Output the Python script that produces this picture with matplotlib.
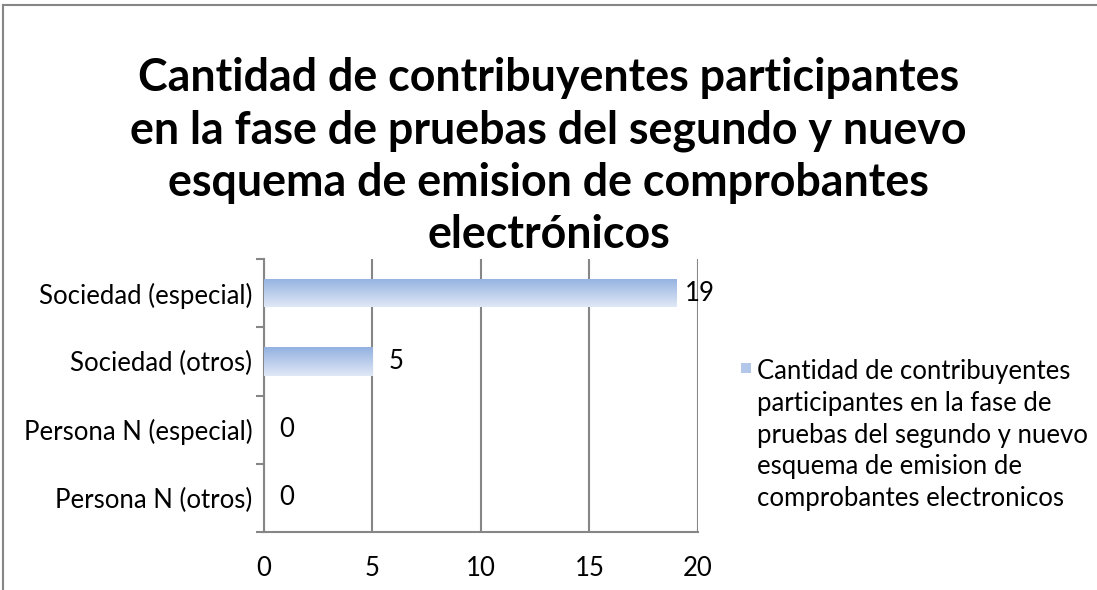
import numpy as np
import matplotlib
matplotlib.use("Agg")
import matplotlib.pyplot as plt
from matplotlib.colors import LinearSegmentedColormap
from matplotlib.lines import Line2D
from matplotlib.patches import Rectangle

# Data
categories = [
    "Persona N (otros)",
    "Persona N (especial)",
    "Sociedad (otros)",
    "Sociedad (especial)",
]
values = [0, 0, 5, 19]
x_ticks = [0, 5, 10, 15, 20]

title = ("Cantidad de contribuyentes participantes\n"
         "en la fase de pruebas del segundo y nuevo\n"
         "esquema de emision de comprobantes\n"
         "electrónicos")
legend_text = ("Cantidad de contribuyentes\n"
               "participantes en la fase de\n"
               "pruebas del segundo y nuevo\n"
               "esquema de emision de\n"
               "comprobantes electronicos")

plt.rcParams["font.family"] = ["Lato", "DejaVu Sans"]
grid_col = "#868686"
grad = LinearSegmentedColormap.from_list("g", ["#e0e8f6", "#93b1e0"])
fs = 18.5

fig = plt.figure(figsize=(10.97, 5.9), dpi=100)
ax = fig.add_axes([263.5 / 1097, 1 - 532 / 590, (698 - 263.5) / 1097, (532 - 259) / 590])

y = np.arange(len(categories))
bar_h = 0.42
bars = ax.barh(y, values, height=bar_h, color="none", edgecolor="none", zorder=3)

# gradient fill for each bar (dark on top, light on bottom)
g = np.linspace(0, 1, 256).reshape(-1, 1)
for b in bars:
    w = b.get_width()
    if w <= 0:
        continue
    y0 = b.get_y()
    im = ax.imshow(g, cmap=grad, aspect="auto", origin="lower",
                   extent=[0, w, y0, y0 + b.get_height()], zorder=3)
    im.set_clip_path(b)

for yi, v in zip(y, values):
    ax.annotate(str(v), (v, yi), xytext=(17, 0), textcoords="offset points",
                ha="center", va="center", fontsize=fs, color="black", zorder=5)

ax.set_xlim(0, 20)
ax.set_ylim(-0.5, len(categories) - 0.5)
ax.set_xticks(x_ticks)
ax.set_xticklabels([str(t) for t in x_ticks], fontsize=fs)
ax.set_yticks(y)
ax.set_yticklabels(categories, fontsize=fs)
ax.tick_params(axis="y", length=0, pad=8)
ax.tick_params(axis="x", length=0, pad=17)

# category boundary ticks on the y axis
ax.set_yticks(np.arange(-0.5, len(categories), 1), minor=True)
ax.tick_params(axis="y", which="minor", length=6, width=1.5, color=grid_col, direction="out")
ax.set_xticks(x_ticks, minor=True)
ax.tick_params(axis="x", which="minor", length=6, width=1.5, color=grid_col, direction="out")

ax.grid(axis="x", color=grid_col, linewidth=1.5, zorder=1)
ax.set_axisbelow(True)
for s in ["top", "right"]:
    ax.spines[s].set_visible(False)
for s in ["left", "bottom"]:
    ax.spines[s].set_color(grid_col)
    ax.spines[s].set_linewidth(1.5)

# title
fig.text(0.5, 1 - 57 / 590, title, ha="center", va="top", fontsize=32.2,
         fontweight="bold", linespacing=1.3)

# legend
fig.patches.append(Rectangle((741 / 1097, 1 - 373 / 590), 10 / 1097, 10 / 590,
                             transform=fig.transFigure, facecolor="#b3c7ea",
                             edgecolor="none"))
fig.text(757 / 1097, 1 - 359 / 590, legend_text, ha="left", va="top",
         fontsize=fs, linespacing=1.34)

# chart frame (cropped on right/bottom)
fig.add_artist(Line2D([3 / 1097, 3 / 1097], [0, 1 - 5 / 590], transform=fig.transFigure,
                      color=grid_col, linewidth=1.5))
fig.add_artist(Line2D([3 / 1097, 1], [1 - 5 / 590, 1 - 5 / 590], transform=fig.transFigure,
                      color=grid_col, linewidth=1.5))

fig.savefig("out.png", dpi=100)
